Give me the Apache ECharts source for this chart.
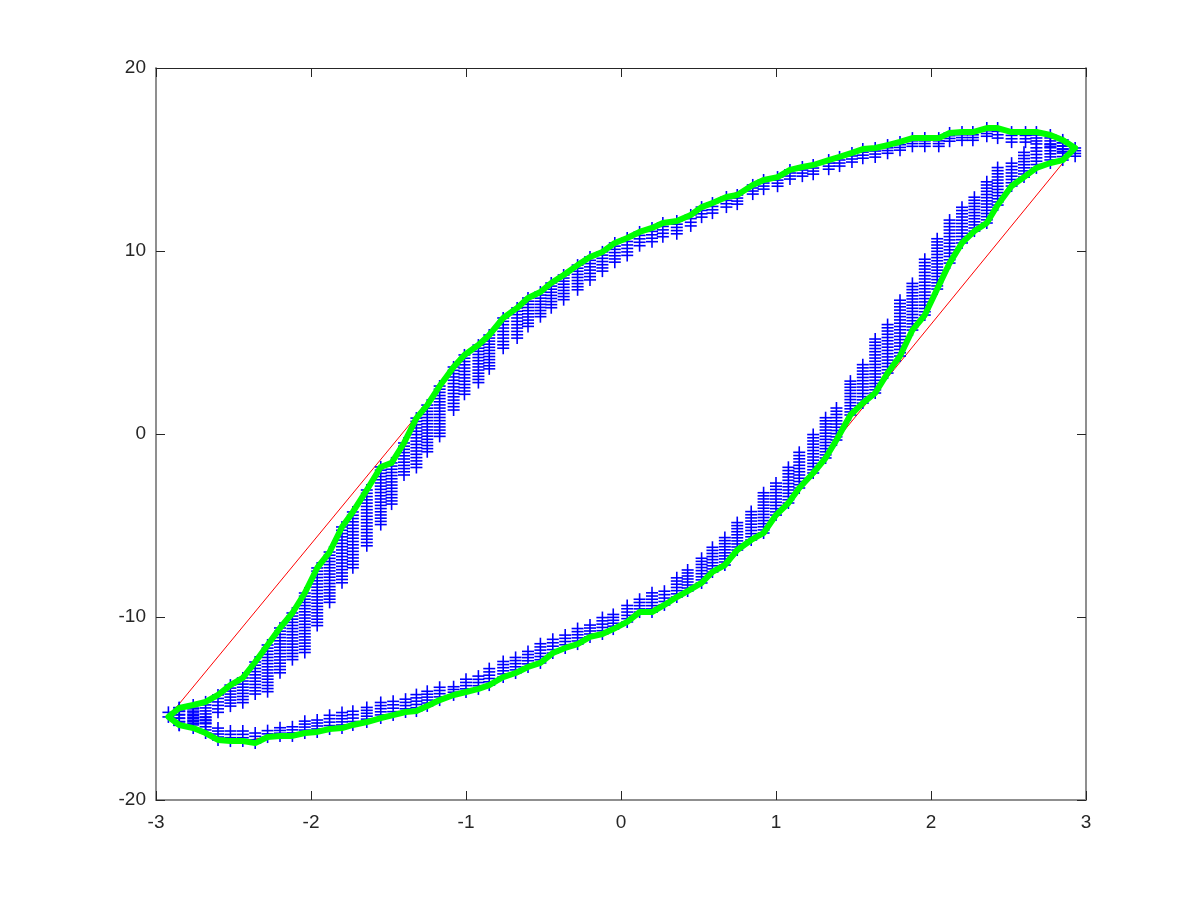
<!DOCTYPE html>
<html><head><meta charset="utf-8">
<script src="https://cdn.jsdelivr.net/npm/echarts/dist/echarts.min.js"></script>
<style>html,body{margin:0;padding:0;background:#fff}#c{width:1200px;height:900px}</style>
</head><body><div id="c"></div>
<script>
// Tick values
const xTicks = [-3, -2, -1, 0, 1, 2, 3];
const yTicks = [-20, -10, 0, 10, 20];

// Green curve, upper branch (right tip -> left), sample columns
const upperX = [2.93,2.85,2.77,2.68,2.61,2.52,2.43,2.36,2.27,2.20, 2.12,2.05,1.96,1.88,1.80,1.72,1.64,1.56,1.49,1.41, 1.34,1.24,1.17,1.09,1.01,0.92,0.85,0.75,0.68,0.59, 0.52,0.45,0.36,0.27,0.20,0.12,0.04,-0.04,-0.12,-0.20, -0.28,-0.37,-0.45,-0.52,-0.60,-0.67,-0.76,-0.85,-0.92,-1.01, -1.08,-1.17,-1.25,-1.32,-1.40,-1.48,-1.55,-1.64,-1.73,-1.80, -1.88,-1.96,-2.04,-2.12,-2.20,-2.28,-2.36,-2.44,-2.52,-2.60, -2.68,-2.76,-2.85];
const upperY = [15.63,16.07,16.34,16.50,16.50,16.50,16.72,16.72,16.50,16.50, 16.45,16.17,16.17,16.17,15.96,15.79,15.63,15.57,15.36,15.14, 14.97,14.70,14.59,14.43,14.04,13.88,13.61,13.06,12.95,12.62, 12.40,11.97,11.64,11.53,11.26,11.04,10.71,10.44,9.95,9.67, 9.23,8.69,8.25,7.76,7.43,6.89,6.34,5.41,4.86,4.32, 3.66,2.62,1.58,0.87,-0.49,-1.58,-1.80,-3.06,-4.26,-5.08, -6.45,-7.32,-8.69,-9.78,-10.60,-11.53,-12.46,-13.33,-13.72,-14.26, -14.64,-14.81,-14.97];
// Vertical spread of the blue "+" samples below the upper curve
const upperSpread = [0.45,0.65,0.65,0.65,0.55,0.55,0.55,0.45,0.45,0.45, 0.45,0.45,0.45,0.45,0.45,0.45,0.5,0.5,0.5,0.5, 0.5,0.5,0.5,0.5,0.5,0.5,0.5,0.5,0.55,0.55, 0.55,0.6,0.7,0.75,0.75,0.75,0.95,1.05,1.05,1.25, 1.35,1.35,1.35,1.35,1.55,1.65,1.65,1.85,2.05,2.15, 2.35,2.75,2.55,2.7,1.75,2.25,3.15,3.05,3.05,3.05, 2.75,3.15,3.25,2.55,2.45,2.55,1.75,1.35,1.15,0.95, 1.15,1.0,0.95];

// Green curve, lower branch (left tip -> right)
const lowerX = [-2.92,-2.85,-2.76,-2.68,-2.60,-2.52,-2.44,-2.36,-2.28,-2.20, -2.12,-2.04,-1.96,-1.88,-1.80,-1.73,-1.64,-1.55,-1.47,-1.39, -1.32,-1.25,-1.17,-1.08,-1.00,-0.92,-0.85,-0.76,-0.68,-0.60, -0.52,-0.44,-0.36,-0.28,-0.20,-0.12,-0.05,0.04,0.12,0.20, 0.28,0.36,0.43,0.52,0.59,0.67,0.75,0.84,0.92,1.00, 1.08,1.15,1.24,1.32,1.39,1.48,1.56,1.64,1.72,1.80, 1.88,1.96,2.04,2.12,2.20,2.28,2.36,2.43,2.52,2.60, 2.68,2.77,2.85];
const lowerY = [-15.46,-15.90,-16.07,-16.34,-16.72,-16.78,-16.78,-16.89,-16.56,-16.50, -16.50,-16.34,-16.28,-16.12,-16.07,-15.90,-15.74,-15.52,-15.36,-15.19, -15.14,-14.86,-14.54,-14.26,-14.10,-13.93,-13.72,-13.28,-13.06,-12.73, -12.51,-11.97,-11.69,-11.48,-11.09,-10.93,-10.66,-10.27,-9.73,-9.73, -9.34,-8.91,-8.58,-8.14,-7.54,-7.16,-6.34,-5.79,-5.41,-4.43, -3.77,-2.95,-2.13,-1.31,-0.33,1.04,1.69,2.24,3.33,4.26, 5.68,6.50,7.92,9.34,10.44,11.09,11.53,12.51,13.55,14.04, 14.54,14.81,14.97];
// Vertical spread of the blue "+" samples above the lower curve
const lowerSpread = [0.25,0.95,1.05,0.85,0.65,0.55,0.55,0.55,0.35,0.45, 0.5,0.65,0.65,0.75,0.85,0.75,0.8,0.85,0.75,0.7, 0.9,0.8,0.7,0.45,0.7,0.7,0.9,0.85,0.85,0.85, 1.05,0.75,0.7,0.85,0.65,0.9,0.8,0.9,0.7,1.05, 0.75,1.05,1.15,1.35,1.35,1.5,1.5,1.55,2.2,1.75, 1.95,1.95,2.1,2.2,1.75,1.85,2.1,2.95,2.65,3.05, 2.55,3.05,2.75,2.35,1.95,1.85,2.25,2.05,1.25,1.35, 1.1,1.0,0.95];

// Red reference line
const redX = [-2.92,-2.76,-2.60,-2.44,-2.28,-2.12,-1.96,-1.80,-1.64,-1.47,-1.32,-1.17,-1.00,-0.85,-0.68,-0.52,-0.36,-0.20,-0.05,0.12,0.28,0.43,0.59,0.75,0.92,1.08,1.24,1.39, 2.93, 2.77,2.61,2.43,2.27,2.12,1.96,1.80,1.64,1.49,1.34,1.17,1.01,0.85,0.68,0.52,0.36,0.20,0.04,-0.12,-0.28,-0.45,-0.60,-0.76,-0.92,-1.08,-1.21,-2.92];
const redY = [-15.46,-16.07,-16.72,-16.78,-16.56,-16.50,-16.28,-16.07,-15.74,-15.36,-15.14,-14.54,-14.10,-13.72,-13.06,-12.51,-11.69,-11.09,-10.66,-9.73,-9.34,-8.58,-7.54,-6.34,-5.41,-3.77,-2.13,-0.33, 15.63, 16.34,16.50,16.72,16.50,16.45,16.17,15.96,15.63,15.36,14.97,14.59,14.04,13.61,12.95,12.40,11.64,11.26,10.71,9.95,9.23,8.25,7.43,6.34,4.86,3.66,2.10,-15.46];

// ---- build series data ----
const greenData = [];
upperX.forEach((x, i) => greenData.push([x, upperY[i]]));
lowerX.forEach((x, i) => greenData.push([x, lowerY[i]]));
greenData.push([upperX[0], upperY[0]]);
const redData = redX.map((x, i) => [x, redY[i]]);
const blueData = [];
upperX.forEach((x, i) => blueData.push([x, upperY[i], upperY[i] - upperSpread[i]]));
lowerX.forEach((x, i) => blueData.push([x, lowerY[i], lowerY[i] + lowerSpread[i]]));

const FONT = '"Liberation Sans", Arial, sans-serif';
const DARK = '#262626';
const GREY = '#8f8f8f';

function renderStack(params, api) {
  const x = api.value(0), a = api.value(1), b = api.value(2);
  const p1 = api.coord([x, a]), p2 = api.coord([x, b]);
  const top = Math.min(p1[1], p2[1]), bot = Math.max(p1[1], p2[1]);
  const cx = p1[0], h = 6;
  const style = { stroke: '#0000ff', lineWidth: 1.6 };
  const children = [{ type: 'line', shape: { x1: cx, y1: top - h, x2: cx, y2: bot + h }, style }];
  const n = Math.max(1, Math.round((bot - top) / 3.2));
  for (let k = 0; k <= n; k++) {
    const yy = top + (bot - top) * k / n;
    children.push({ type: 'line', shape: { x1: cx - h, y1: yy, x2: cx + h, y2: yy }, style });
  }
  return { type: 'group', children };
}

const chart = echarts.init(document.getElementById('c'), null, { renderer: 'canvas' });
const axX = (pos, labels, lineColor, lw) => ({
  type: 'value', position: pos, min: xTicks[0], max: xTicks[xTicks.length - 1], interval: 1,
  axisLine: { show: true, onZero: false, lineStyle: { color: lineColor, width: lw } },
  axisTick: { show: true, inside: true, length: 9, lineStyle: { color: DARK, width: 1 } },
  axisLabel: { show: labels, margin: 13, fontSize: 19, color: DARK, fontFamily: FONT },
  splitLine: { show: false }
});
const axY = (pos, labels, lineColor, lw) => ({
  type: 'value', position: pos, min: yTicks[0], max: yTicks[yTicks.length - 1], interval: 10,
  axisLine: { show: true, onZero: false, lineStyle: { color: lineColor, width: lw } },
  axisTick: { show: true, inside: true, length: 9, lineStyle: { color: DARK, width: 1 } },
  axisLabel: { show: labels, margin: 10, fontSize: 19, color: DARK, fontFamily: FONT },
  splitLine: { show: false }
});

chart.setOption({
  animation: false,
  backgroundColor: '#ffffff',
  grid: { left: 156, right: 114, top: 68, bottom: 100, containLabel: false },
  xAxis: [axX('bottom', true, GREY, 2), axX('top', false, DARK, 1)],
  yAxis: [axY('left', true, GREY, 2), axY('right', false, GREY, 2)],
  series: [
    { type: 'line', data: redData, showSymbol: false, symbol: 'none', lineStyle: { color: '#ff0000', width: 1 }, z: 2 },
    { type: 'custom', data: blueData, renderItem: renderStack, encode: { x: 0, y: [1, 2] }, z: 3, clip: true },
    { type: 'line', data: greenData, showSymbol: false, symbol: 'none', lineStyle: { color: '#00ff00', width: 6, join: 'round', cap: 'round' }, z: 4 }
  ]
});
</script>
</body></html>
